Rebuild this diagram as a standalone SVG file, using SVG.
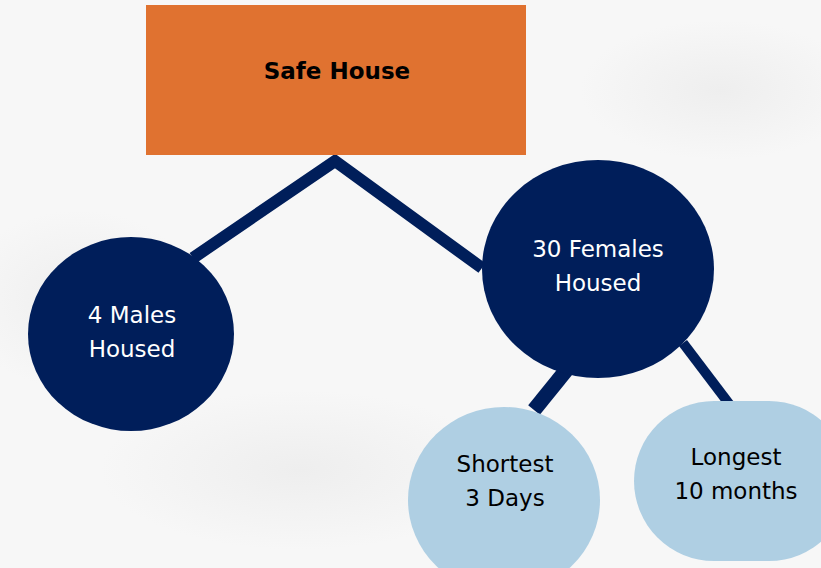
<svg xmlns="http://www.w3.org/2000/svg" width="821" height="568" viewBox="0 0 821 568">
<defs>
<radialGradient id="bg1" cx="0.5" cy="0.5" r="0.5"><stop offset="0" stop-color="#eeeeee"/><stop offset="1" stop-color="#eeeeee" stop-opacity="0"/></radialGradient>
<style>
.t{font-family:"DejaVu Sans","Liberation Sans",sans-serif;font-size:23px;text-anchor:middle}
.w{fill:#ffffff}
.k{fill:#000000}
.navy{fill:#001E5A}
.light{fill:#AFCFE3}
.ln{fill:none;stroke:#001E5A;stroke-linecap:butt}
</style>
</defs>
<rect width="821" height="568" fill="#f7f7f7"/>
<ellipse cx="80" cy="300" rx="120" ry="90" fill="url(#bg1)"/>
<ellipse cx="720" cy="90" rx="140" ry="70" fill="url(#bg1)"/>
<ellipse cx="300" cy="470" rx="200" ry="80" fill="url(#bg1)"/>
<g id="connectors">
<polyline class="ln" points="193,258 335,161 482,268" stroke-width="12" stroke-linejoin="miter"/>
<line class="ln" x1="568" y1="368" x2="534" y2="410" stroke-width="15"/>
<line class="ln" x1="683" y1="343" x2="730" y2="405" stroke-width="10"/>
</g>
<g id="safe-house">
<rect x="146" y="5" width="380" height="150" fill="#E07230"/>
<text class="t k" x="337" y="79" font-weight="bold" font-size="21">Safe House</text>
</g>
<g id="males">
<ellipse class="navy" cx="131" cy="334" rx="103" ry="97"/>
<text class="t w" x="132" y="323">4 Males</text>
<text class="t w" x="132" y="357">Housed</text>
</g>
<g id="females">
<ellipse class="navy" cx="598" cy="269" rx="116" ry="109"/>
<text class="t w" x="598" y="257">30 Females</text>
<text class="t w" x="598" y="291">Housed</text>
</g>
<g id="shortest">
<ellipse class="light" cx="504" cy="500" rx="96" ry="93"/>
<text class="t k" x="505" y="472">Shortest</text>
<text class="t k" x="505" y="506">3 Days</text>
</g>
<g id="longest">
<rect class="light" x="634" y="401" width="215" height="160" rx="80" ry="80"/>
<text class="t k" x="736" y="465">Longest</text>
<text class="t k" x="736" y="499">10 months</text>
</g>
</svg>
